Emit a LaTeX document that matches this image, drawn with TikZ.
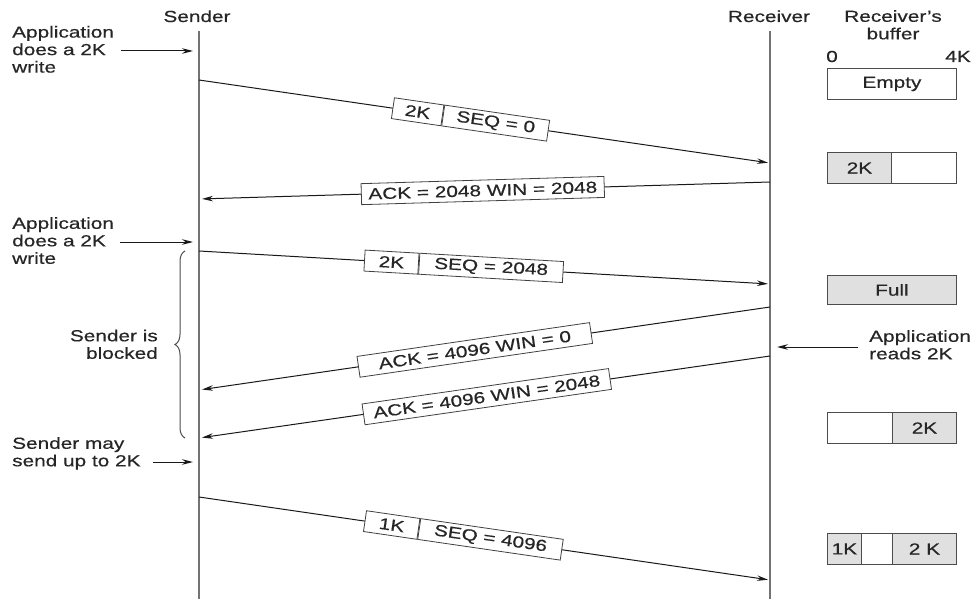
\documentclass[tikz,border=0pt]{standalone}
\usepackage{fontspec}
\setmainfont{Liberation Sans}[FakeStretch=1.3,FakeBold=0.5]
\usetikzlibrary{arrows.meta,decorations.pathreplacing}
\begin{document}
\begin{tikzpicture}[x=1pt,y=-1pt,
  font=\fontsize{16}{17.5}\selectfont,
  life/.style={draw=black!55, line width=1.8pt},
  msg/.style={draw=black!90, line width=1pt, -{Stealth[length=11pt,width=5.5pt]}},
  lbl/.style={draw=black!75, fill=white, line width=0.8pt, minimum height=21pt, inner sep=0pt, text=black!85},
  txt/.style={inner sep=0pt, text=black!85, align=left},
  buf/.style={draw=black!70, line width=0.9pt, minimum height=31pt, inner sep=0pt, anchor=north west, text=black!85},
  gbuf/.style={buf, fill=black!12}
]
\useasboundingbox (0,0) rectangle (975,599);

% headers
\node[txt, anchor=base] (hs) at (197,22) {Sender};
\node[txt, anchor=base] (hr) at (769,22) {Receiver};
\node[txt, anchor=north, align=center] (hb) at (893,10) {Receiver's\\buffer};
\node[txt, anchor=base] (z0) at (832,62) {0};
\node[txt, anchor=base] (z4) at (958,62) {4K};

% life lines
\coordinate (stop) at (199,31); \coordinate (sbot) at (199,599);
\coordinate (rtop) at (770,31); \coordinate (rbot) at (770,599);
\draw[life] (stop) -- (sbot);
\draw[life] (rtop) -- (rbot);

% message end points
\coordinate (s1) at (199,80);  \coordinate (r1) at (770,163);
\coordinate (r2) at (770,182); \coordinate (s2) at (199,199);
\coordinate (s3) at (199,251); \coordinate (r3) at (770,284);
\coordinate (r4) at (770,307); \coordinate (s4) at (199,390);
\coordinate (r5) at (770,356); \coordinate (s5) at (199,438);
\coordinate (s6) at (199,497); \coordinate (r6) at (770,580);

% messages
\draw[msg, shorten >=2pt] (s1) -- node[lbl, sloped, pos=0.427, anchor=east, minimum width=50pt] (d1a) {2K}
  node[lbl, sloped, pos=0.427, anchor=west, minimum width=106pt] (d1b) {SEQ = 0} (r1);
\draw[msg, shorten >=3pt] (r2) -- node[lbl, sloped, pos=0.503, minimum width=243pt] (a1) {ACK = 2048 WIN = 2048} (s2);
\draw[msg, shorten >=2pt] (s3) -- node[lbl, sloped, pos=0.385, anchor=east, minimum width=54pt] (d2a) {2K}
  node[lbl, sloped, pos=0.385, anchor=west, minimum width=144pt] (d2b) {SEQ = 2048} (r3);
\draw[msg, shorten >=3pt] (r4) -- node[lbl, sloped, pos=0.517, minimum width=235pt] (a2) {ACK = 4096 WIN = 0} (s4);
\draw[msg, shorten >=3pt] (r5) -- node[lbl, sloped, pos=0.496, minimum width=249pt] (a3) {ACK = 4096 WIN = 2048} (s5);
\draw[msg, shorten >=2pt] (s6) -- node[lbl, sloped, pos=0.385, anchor=east, minimum width=54pt] (d3a) {1K}
  node[lbl, sloped, pos=0.385, anchor=west, minimum width=144pt] (d3b) {SEQ = 4096} (r6);

% side annotations
\node[txt, anchor=north west] (w1) at (12,25.8) {Application\\does a 2K\\write};
\coordinate (t1) at (193,51);
\draw[msg, shorten <=7pt] (w1.east |- t1) -- (t1);

\node[txt, anchor=north west] (w2) at (12,217) {Application\\does a 2K\\write};
\coordinate (t2) at (193,242);
\draw[msg, shorten <=6pt] (w2.east |- t2) -- (t2);

\node[txt, anchor=north east, align=right] (sb) at (158,329.5) {Sender is\\blocked};
\coordinate (br1) at (185,438); \coordinate (br2) at (185,251);
\draw[draw=black!70, line width=1pt, decorate, decoration={brace, amplitude=10pt}] (br1) -- (br2);

\node[txt, anchor=north west] (sm) at (12,437) {Sender may\\send up to 2K};
\coordinate (t3) at (193,462);
\draw[msg, shorten <=12pt] (sm.east |- t3) -- (t3);

\node[txt, anchor=north west] (ar) at (869,330) {Application\\reads 2K};
\coordinate (t4) at (777,347);
\draw[msg, shorten <=11pt] (ar.west |- t4) -- (t4);

% receiver's buffer
\node[buf, minimum width=129pt] (b0) at (827,68) {Empty};
\node[gbuf, minimum width=64pt] (b1a) at (827,152) {2K};
\node[buf, minimum width=65pt] (b1b) at (891,152) {};
\node[gbuf, minimum width=129pt, minimum height=29pt] (b2) at (827,275) {Full};
\node[buf, minimum width=65pt] (b3a) at (827,412) {};
\node[gbuf, minimum width=64pt] (b3b) at (892,412) {2K};
\node[gbuf, minimum width=34pt] (b4a) at (827,533) {1K};
\node[buf, minimum width=31pt] (b4b) at (861,533) {};
\node[gbuf, minimum width=64pt] (b4c) at (892,533) {2 K};
\end{tikzpicture}
\end{document}
